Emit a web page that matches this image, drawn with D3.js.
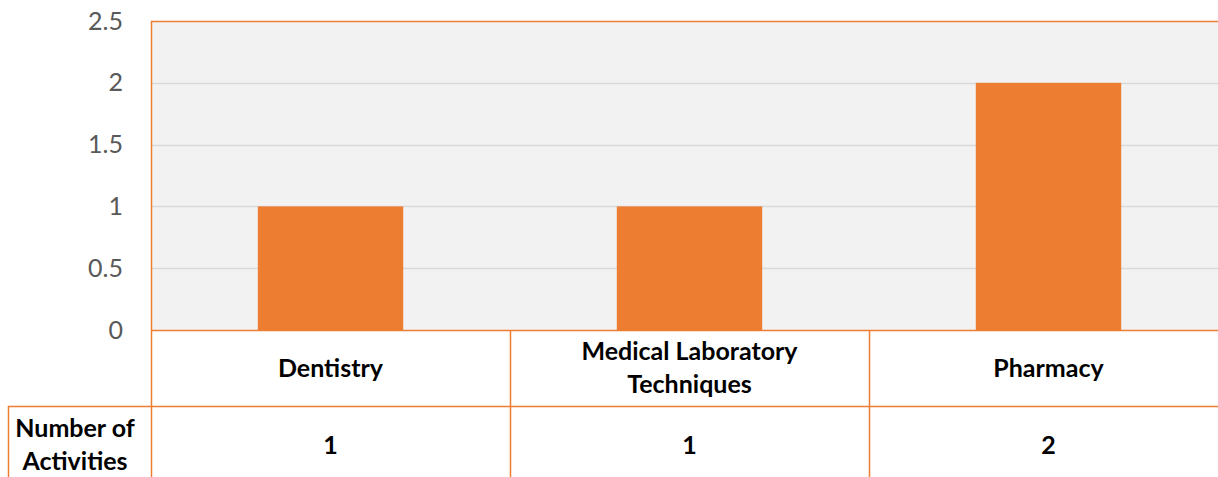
<!DOCTYPE html>
<html><head><meta charset="utf-8">
<script src="https://cdn.jsdelivr.net/npm/d3@7"></script>
<style>body{margin:0;background:#fff;}svg{display:block;}</style>
</head><body>
<svg id="chart" width="1218" height="477"></svg>
<script>
const categories = ["Dentistry", "Medical Laboratory Techniques", "Pharmacy"];
const categoryLines = [["Dentistry"], ["Medical Laboratory", "Techniques"], ["Pharmacy"]];
const values = [1, 1, 2];
const seriesName = ["Number of", "Activities"];
const yTicks = [0, 0.5, 1, 1.5, 2, 2.5];

(function() {
const svg = d3.select("#chart");
const pLeft = 151, pTop = 21, pBottom = 330, pRight = 1228;
const orange = "#ED7D31";
const font = "Lato, 'Open Sans', sans-serif";
const boldSize = 25;

const x = d3.scaleBand().domain(categories).range([pLeft, pRight]).paddingInner(0).paddingOuter(0);
const y = d3.scaleLinear().domain([0, 2.5]).range([pBottom, pTop]);

svg.append("rect").attr("x", pLeft).attr("y", pTop).attr("width", pRight - pLeft).attr("height", pBottom - pTop).attr("fill", "#F2F2F2");

svg.append("g").selectAll("line").data(yTicks.filter(d => d > 0 && d < 2.5)).join("line")
  .attr("x1", pLeft).attr("x2", pRight).attr("y1", d => Math.round(y(d)) + 0.5).attr("y2", d => Math.round(y(d)) + 0.5)
  .attr("stroke", "#D9D9D9").attr("stroke-width", 1.5);

const barW = x.bandwidth() * 0.405;
svg.append("g").selectAll("rect").data(values).join("rect")
  .attr("x", (d, i) => x(categories[i]) + (x.bandwidth() - barW) / 2)
  .attr("width", barW)
  .attr("y", d => y(d))
  .attr("height", d => y(0) - y(d))
  .attr("fill", orange);

const yAxis = d3.axisLeft(y).tickValues(yTicks).tickSize(0).tickPadding(28).tickFormat(d3.format("~g"));
const ya = svg.append("g").attr("transform", `translate(${pLeft},0)`).call(yAxis);
ya.select(".domain").remove();
ya.selectAll("text").attr("font-family", font).attr("font-size", 25).attr("fill", "#595959");

svg.append("line").attr("x1", pLeft).attr("x2", pRight).attr("y1", pTop + 0.5).attr("y2", pTop + 0.5).attr("stroke", orange).attr("stroke-width", 1.5);
svg.append("line").attr("x1", pLeft).attr("x2", pRight).attr("y1", pBottom + 0.5).attr("y2", pBottom + 0.5).attr("stroke", orange).attr("stroke-width", 1.5);
svg.append("line").attr("x1", pLeft + 0.5).attr("x2", pLeft + 0.5).attr("y1", pTop).attr("y2", 477).attr("stroke", orange).attr("stroke-width", 1.5);

const rowTop = 406;
svg.append("line").attr("x1", 8).attr("x2", pRight).attr("y1", rowTop + 0.5).attr("y2", rowTop + 0.5).attr("stroke", orange).attr("stroke-width", 1.5);
svg.append("line").attr("x1", 8.5).attr("x2", 8.5).attr("y1", rowTop).attr("y2", 477).attr("stroke", orange).attr("stroke-width", 1.5);
svg.append("g").selectAll("line").data(categories.slice(1)).join("line")
  .attr("x1", d => Math.round(x(d)) + 0.5).attr("x2", d => Math.round(x(d)) + 0.5)
  .attr("y1", pBottom).attr("y2", 477).attr("stroke", orange).attr("stroke-width", 1.5);

const catG = svg.append("g").selectAll("text").data(categoryLines).join("text")
  .attr("x", (d, i) => x(categories[i]) + x.bandwidth() / 2)
  .attr("text-anchor", "middle").attr("font-family", font).attr("font-weight", "bold")
  .attr("font-size", boldSize).attr("fill", "#000");
catG.each(function(lines, i) {
  const t = d3.select(this);
  const n = lines.length;
  const cx = x(categories[i]) + x.bandwidth() / 2;
  lines.forEach((l, j) => {
    t.append("tspan").attr("x", cx).attr("y", 368 + (j - (n - 1) / 2) * 33).attr("dy", "0.35em").text(l);
  });
});

svg.append("g").selectAll("text").data(values).join("text")
  .attr("x", (d, i) => x(categories[i]) + x.bandwidth() / 2)
  .attr("y", 445).attr("dy", "0.35em")
  .attr("text-anchor", "middle").attr("font-family", font).attr("font-weight", "bold")
  .attr("font-size", boldSize).attr("fill", "#000").text(d => d);

const sn = svg.append("text").attr("text-anchor", "middle").attr("font-family", font).attr("font-weight", "bold").attr("font-size", boldSize).attr("fill", "#000");
seriesName.forEach((l, j) => sn.append("tspan").attr("x", 75).attr("y", 428 + j * 33).attr("dy", "0.35em").text(l));
})();
</script>
</body></html>
